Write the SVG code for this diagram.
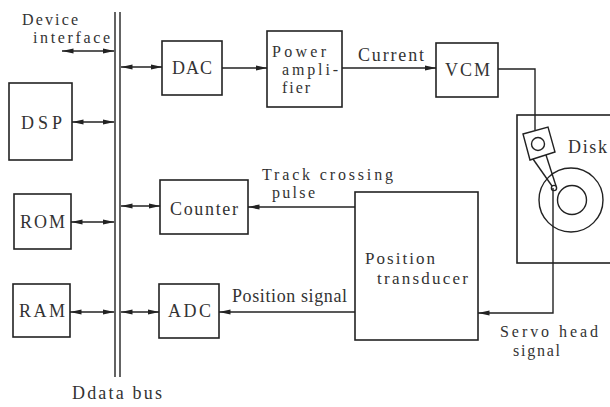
<svg xmlns="http://www.w3.org/2000/svg" width="610" height="407" viewBox="0 0 610 407">
  <style>
    .box { fill: none; stroke: #222; stroke-width: 1.6; }
    .ln { fill: none; stroke: #222; stroke-width: 1.4; }
    .t { font-family: "Liberation Serif", "DejaVu Serif", serif; font-size: 18px; fill: #333; }
    .s { font-size: 16px; }
    .m { font-size: 17px; }
  </style>
  <defs>
    <marker id="ah" viewBox="0 0 12 6" refX="11.5" refY="3" markerWidth="12" markerHeight="6" markerUnits="userSpaceOnUse" orient="auto-start-reverse">
      <path d="M0,0.4 L12,3 L0,5.6 Z" fill="#222"/>
    </marker>
  </defs>
  <rect width="610" height="407" fill="#fff"/>

  <!-- data bus -->
  <g id="bus">
    <line class="ln" x1="115" y1="12" x2="115" y2="377"/>
    <line class="ln" x1="120" y1="12" x2="120" y2="377"/>
    <text class="t" x="72" y="399" textLength="90" lengthAdjust="spacing">Ddata bus</text>
  </g>

  <g id="device-interface">
    <text class="t s" x="22" y="25" textLength="56" lengthAdjust="spacing">Device</text>
    <text class="t s" x="33" y="43" textLength="77" lengthAdjust="spacing">interface</text>
  </g>

  <g id="dsp">
    <rect class="box" x="9" y="83" width="63" height="77"/>
    <text class="t" x="21" y="129" textLength="41" lengthAdjust="spacing">DSP</text>
  </g>
  <g id="rom">
    <rect class="box" x="14" y="194" width="57" height="55"/>
    <text class="t" x="20" y="228" textLength="45" lengthAdjust="spacing">ROM</text>
  </g>
  <g id="ram">
    <rect class="box" x="13" y="284" width="57" height="53"/>
    <text class="t" x="19" y="317" textLength="46" lengthAdjust="spacing">RAM</text>
  </g>

  <g id="dac">
    <rect class="box" x="162" y="41" width="60" height="54"/>
    <text class="t" x="172" y="74" textLength="40" lengthAdjust="spacing">DAC</text>
  </g>
  <g id="counter">
    <rect class="box" x="160" y="180" width="88" height="54"/>
    <text class="t" x="170" y="215" textLength="68" lengthAdjust="spacing">Counter</text>
  </g>
  <g id="adc">
    <rect class="box" x="159" y="284" width="60" height="54"/>
    <text class="t" x="168" y="317" textLength="43" lengthAdjust="spacing">ADC</text>
  </g>

  <g id="power-amplifier">
    <rect class="box" x="267" y="31" width="75" height="76"/>
    <text class="t s" x="272" y="57" textLength="54" lengthAdjust="spacing">Power</text>
    <text class="t s" x="282" y="75" textLength="56" lengthAdjust="spacing">ampli-</text>
    <text class="t s" x="282" y="93" textLength="28" lengthAdjust="spacing">fier</text>
  </g>

  <g id="vcm">
    <rect class="box" x="436" y="43" width="62" height="54"/>
    <text class="t" x="445" y="76" textLength="45" lengthAdjust="spacing">VCM</text>
  </g>

  <g id="position-transducer">
    <rect class="box" x="355" y="192" width="123" height="148"/>
    <text class="t m" x="365" y="264" textLength="70" lengthAdjust="spacing">Position</text>
    <text class="t m" x="377" y="284" textLength="91" lengthAdjust="spacing">transducer</text>
  </g>

  <!-- disk drive with head assembly -->
  <g id="disk">
    <rect class="box" x="517" y="115" width="100" height="148"/>
    <text class="t" x="568" y="153" textLength="39" lengthAdjust="spacing">Disk</text>
    <circle class="ln" cx="571" cy="200" r="32"/>
    <circle class="ln" cx="572" cy="200" r="14.5"/>
    <polygon class="ln" points="523,134 548,127 555,152 530,160" fill="#fff"/>
    <circle class="ln" cx="538" cy="144" r="6.5"/>
    <line class="ln" x1="533" y1="159" x2="552" y2="186"/>
    <line class="ln" x1="546" y1="155" x2="556" y2="186"/>
    <circle class="ln" cx="554" cy="188" r="2.6" fill="#fff"/>
  </g>

  <!-- connectors -->
  <g id="connectors">
    <line class="ln" x1="62" y1="51" x2="114" y2="51" marker-start="url(#ah)" marker-end="url(#ah)"/>
    <line class="ln" x1="72" y1="122" x2="114" y2="122" marker-start="url(#ah)" marker-end="url(#ah)"/>
    <line class="ln" x1="71" y1="222" x2="114" y2="222" marker-start="url(#ah)" marker-end="url(#ah)"/>
    <line class="ln" x1="70" y1="312" x2="114" y2="312" marker-start="url(#ah)" marker-end="url(#ah)"/>

    <line class="ln" x1="121" y1="67" x2="162" y2="67" marker-start="url(#ah)" marker-end="url(#ah)"/>
    <line class="ln" x1="121" y1="206" x2="160" y2="206" marker-start="url(#ah)" marker-end="url(#ah)"/>
    <line class="ln" x1="121" y1="312" x2="159" y2="312" marker-start="url(#ah)" marker-end="url(#ah)"/>

    <line class="ln" x1="222" y1="68" x2="267" y2="68" marker-end="url(#ah)"/>
    <line class="ln" x1="342" y1="68" x2="436" y2="68" marker-end="url(#ah)"/>
    <text class="t" x="358" y="61" textLength="66" lengthAdjust="spacing">Current</text>

    <polyline class="ln" points="498,69 535,69 535,130"/>
    <polyline class="ln" points="553,188 553,313 478,313" marker-end="url(#ah)"/>
    <text class="t s" x="500" y="337" textLength="98" lengthAdjust="spacing">Servo head</text>
    <text class="t s" x="513" y="356" textLength="47" lengthAdjust="spacing">signal</text>

    <line class="ln" x1="355" y1="207" x2="248" y2="207" marker-end="url(#ah)"/>
    <text class="t s" x="262" y="180" textLength="131" lengthAdjust="spacing">Track crossing</text>
    <text class="t s" x="272" y="198" textLength="43" lengthAdjust="spacing">pulse</text>

    <line class="ln" x1="355" y1="312" x2="219" y2="312" marker-end="url(#ah)"/>
    <text class="t" x="232" y="302" textLength="115" lengthAdjust="spacing">Position signal</text>
  </g>
</svg>
